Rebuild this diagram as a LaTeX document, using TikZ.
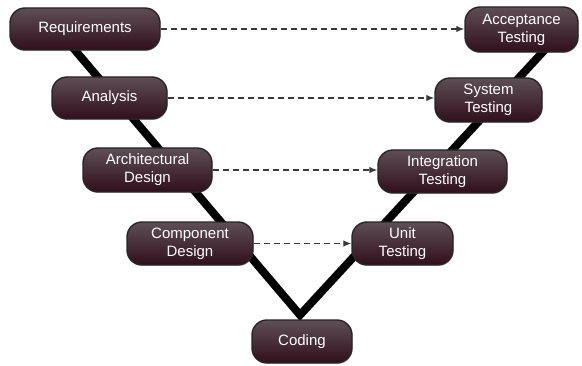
\documentclass[tikz,border=0pt]{standalone}
\usepackage{fontspec}
\setmainfont{Liberation Sans}
\usetikzlibrary{arrows.meta,shadows}

\definecolor{phasetop}{HTML}{5E4E55}
\definecolor{phasebot}{HTML}{300F1B}
\definecolor{phaseedge}{HTML}{262626}
\definecolor{traceline}{HTML}{3A3A3A}

\tikzset{
  phase/.style={
    rounded corners=15pt, draw=phaseedge, line width=1.4pt,
    top color=phasetop, bottom color=phasebot,
    drop shadow={opacity=0.25, shadow xshift=0.8pt, shadow yshift=-1.2pt},
    text=white, align=center, inner sep=0pt,
    font=\fontsize{15}{18}\selectfont
  },
  vshape/.style={line width=8pt, black, line join=miter},
  trace/.style={traceline, line width=1.2pt, dash pattern=on 6pt off 4pt,
    -{Latex[length=8pt,width=6.5pt]}}
}

\begin{document}
\begin{tikzpicture}[x=1pt,y=1pt]
  \useasboundingbox (0,0) rectangle (582,365);

  % the V backbone, drawn first so the phase boxes cover it
  \coordinate (vleft)   at (57,336);
  \coordinate (vbottom) at (300,50);
  \coordinate (vright)  at (564,336);
  \draw[vshape] (vleft) -- (vbottom) -- (vright);

  % left branch: specification and design
  \node[phase, minimum width=150pt, minimum height=42pt] (req)  at (85,336)    {Requirements};
  \node[phase, minimum width=115pt, minimum height=42pt] (ana)  at (109.5,267) {Analysis};
  \node[phase, minimum width=129pt, minimum height=44pt] (arch) at (147.5,195) {Architectural\\Design};
  \node[phase, minimum width=126pt, minimum height=43pt] (comp) at (190,121.5) {Component\\Design};

  % bottom
  \node[phase, minimum width=100pt, minimum height=43pt] (code) at (302,23.5)  {Coding};

  % right branch: testing
  \node[phase, minimum width=101pt, minimum height=43pt] (unit) at (402.5,121.5) {Unit\\Testing};
  \node[phase, minimum width=129pt, minimum height=43pt] (intg) at (442.5,193.5) {Integration\\Testing};
  \node[phase, minimum width=107pt, minimum height=44pt] (sys)  at (488.5,265)   {System\\Testing};
  \node[phase, minimum width=113pt, minimum height=45pt] (acc)  at (521.5,335.5) {Acceptance\\Testing};

  % verification links between matching levels
  \draw[trace] (req.east)  -- (req.east -| acc.west);
  \draw[trace] (ana.east)  -- (ana.east -| sys.west);
  \draw[trace] (arch.east) -- (arch.east -| intg.west);
  \draw[trace] (comp.east) -- (comp.east -| unit.west);
\end{tikzpicture}
\end{document}
